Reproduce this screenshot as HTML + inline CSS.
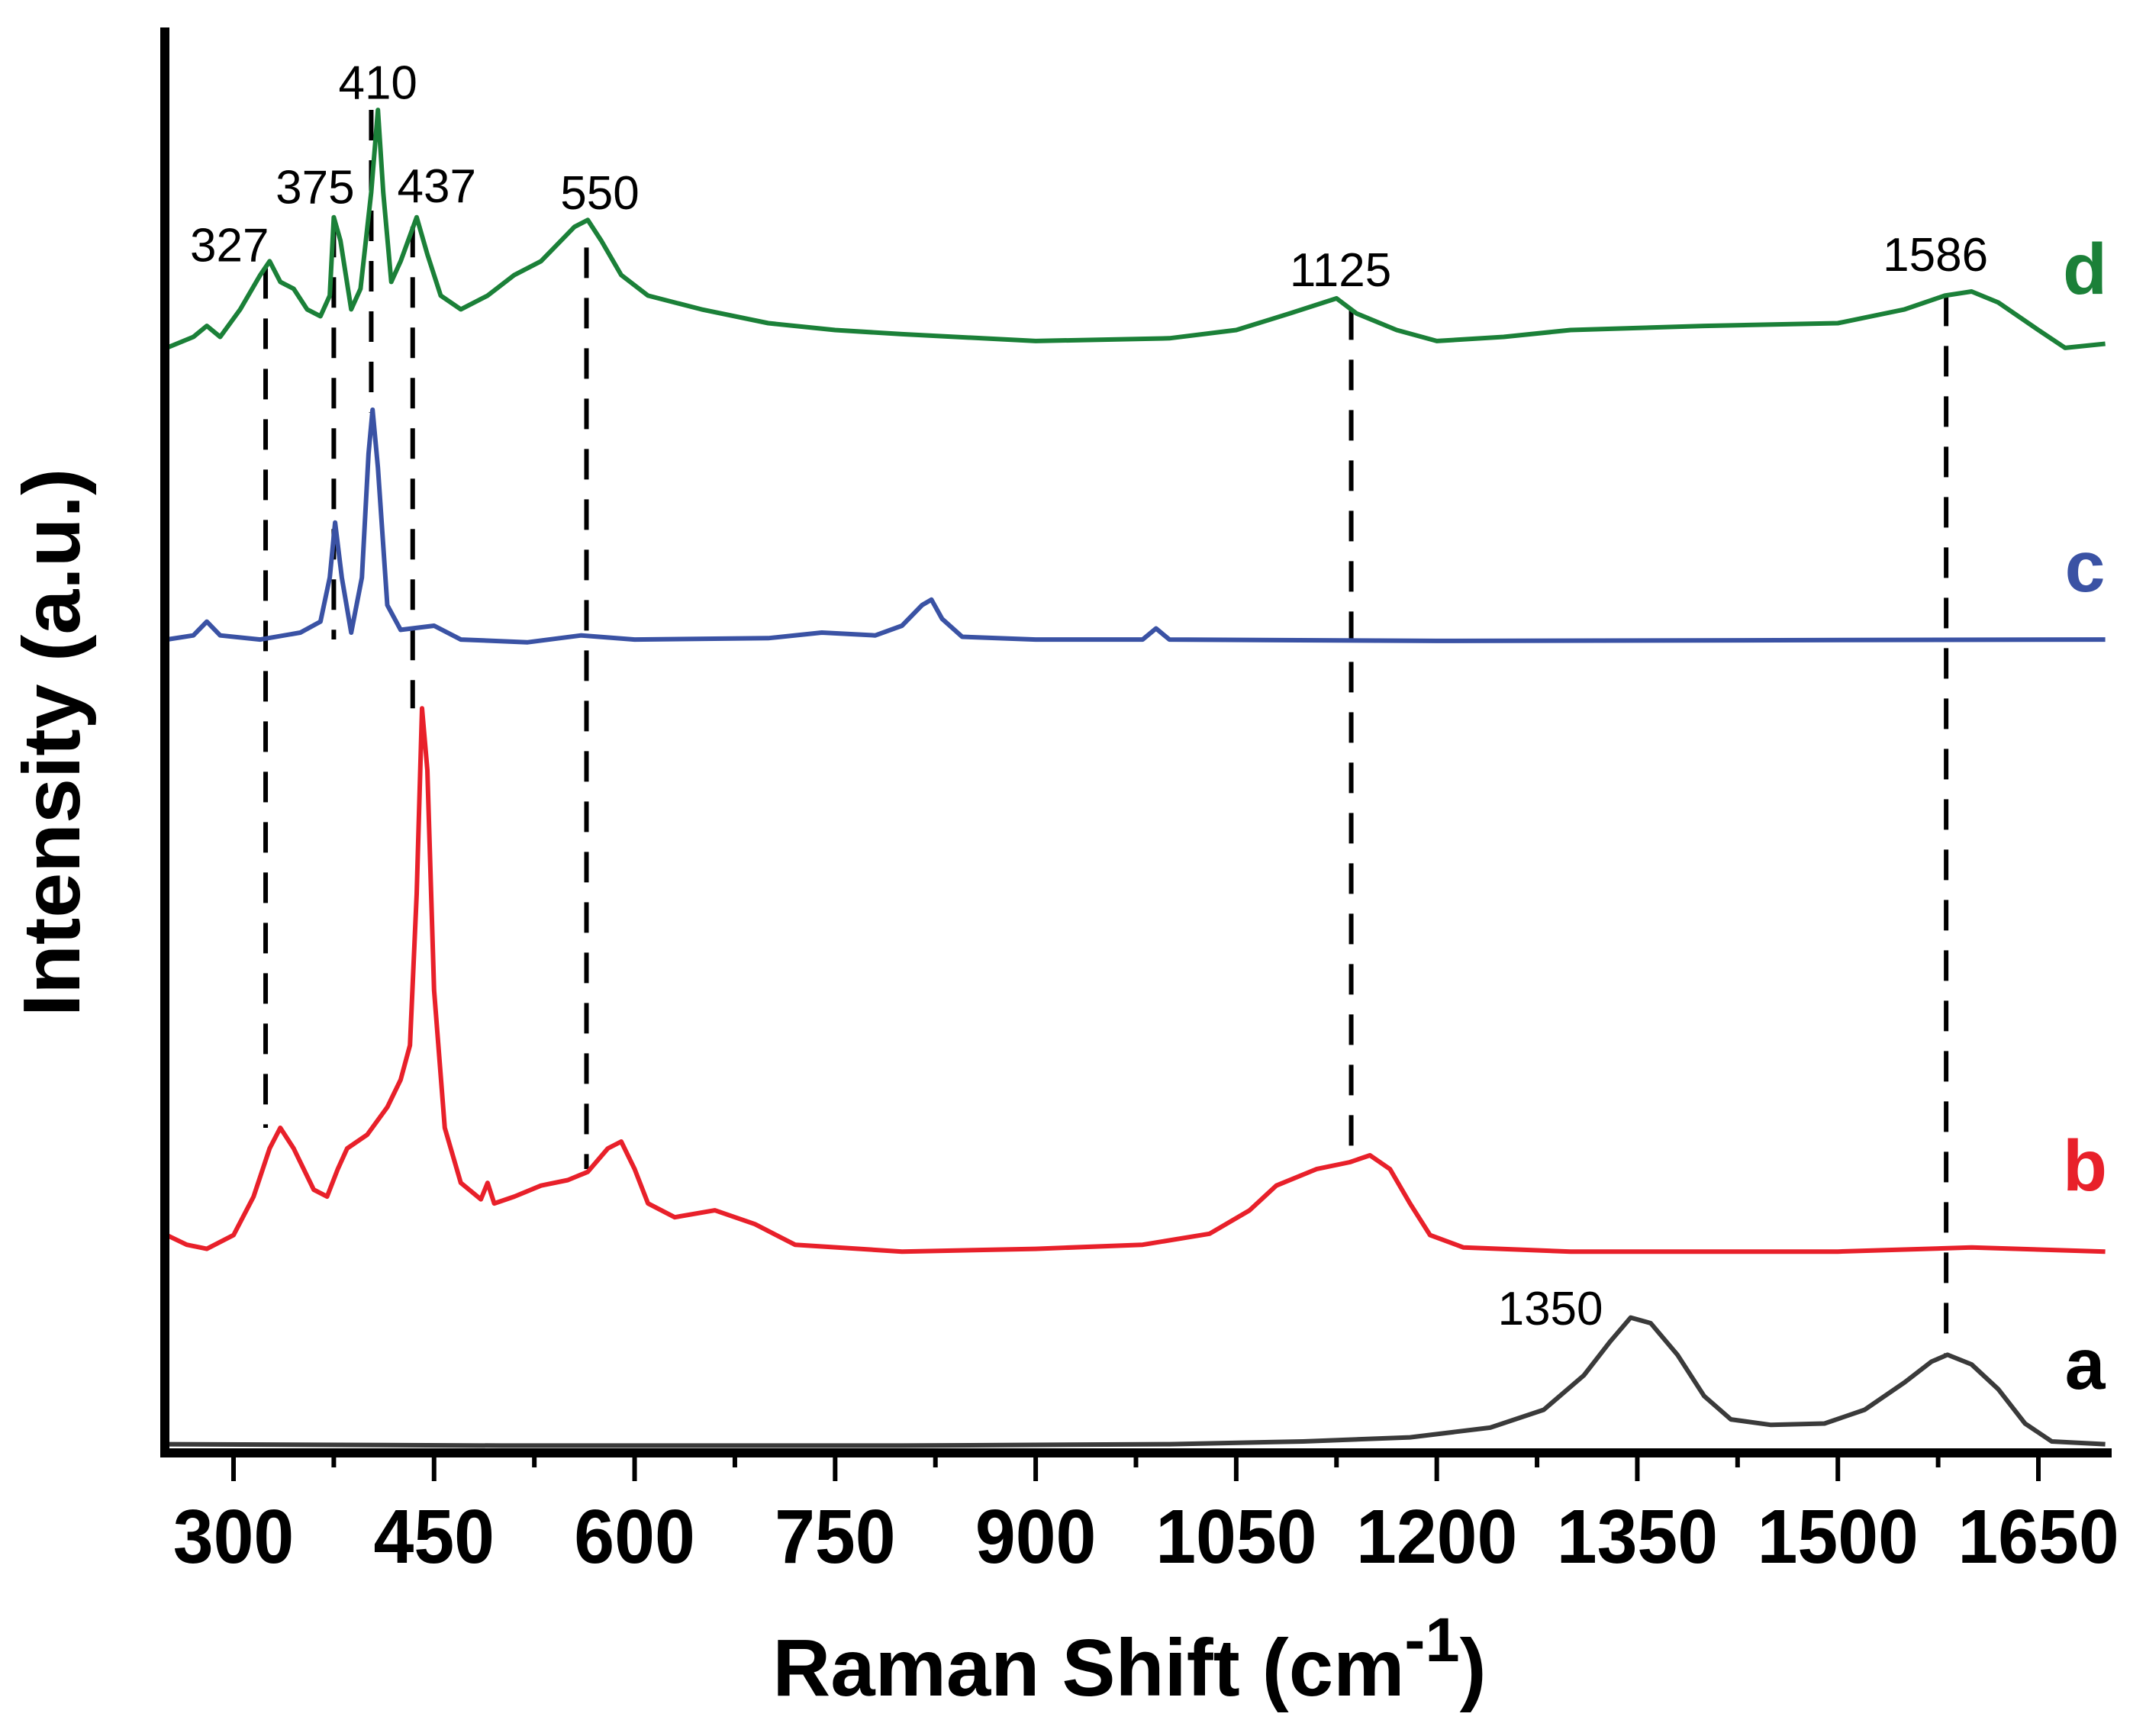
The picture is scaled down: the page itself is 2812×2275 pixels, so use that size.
<!DOCTYPE html>
<html><head><meta charset="utf-8"><style>
html,body{margin:0;padding:0;background:#fff}
svg{display:block}
</style></head><body>
<svg id="chart" width="2812" height="2275" viewBox="0 0 2812 2275" xmlns="http://www.w3.org/2000/svg" font-family="Liberation Sans, Arial, sans-serif">
<g id="plot"></g>
<g id="axes"></g>
<text x="1480" y="2222" font-size="106" font-weight="bold" text-anchor="middle" transform="translate(1480 0) scale(0.99 1) translate(-1480 0)">Raman Shift (cm<tspan dy="-45" font-size="82">-1</tspan><tspan dy="45">)</tspan></text>
<text transform="translate(104 973) rotate(-90)" font-size="106" font-weight="bold" text-anchor="middle">Intensity (a.u.)</text>
</svg>
<script>
const xTicks=[300,450,600,750,900,1050,1200,1350,1500,1650];
const xMinor=[375,525,675,825,975,1125,1275,1425,1575];
const axX=[250,500,800,1000,1100,1180,1240,1280,1310,1330,1345,1360,1380,1400,1420,1450,1490,1520,1550,1570,1582,1600,1620,1640,1660,1700];
const seriesA=[8,7,7,8,10,13,20,33,58,83,100,96,73,43,26,22,23,33,53,68,73,66,48,23,10,8];
const bxX=[250,265,280,300,315,327,335,345,360,370,378,385,400,415,425,432,437,441,445,450,458,470,485,490,495,510,530,550,565,580,590,600,610,630,660,690,720,800,900,980,1030,1060,1080,1110,1135,1150,1165,1180,1195,1220,1300,1500,1600,1700];
const seriesB=[160,153,150,160,188,223,238,223,193,188,208,223,233,253,273,298,408,543,498,338,238,198,186,198,183,188,196,200,206,223,228,208,183,173,178,168,153,148,150,153,161,178,196,208,213,218,208,183,160,151,148,148,151,148];
const cxX=[250,270,280,290,320,350,365,372,376,381,388,396,401,404,408,415,425,450,470,520,560,600,700,740,780,800,815,822,830,845,900,980,990,1000,1200,1700];
const seriesC=[593,596,606,596,593,598,606,638,678,638,598,638,728,760,718,618,600,603,593,591,596,593,594,598,596,603,618,622,608,595,593,593,601,593,592,593];
const dxX=[250,270,280,290,305,320,327,335,345,355,365,372,375,380,388,395,403,408,412,418,425,437,445,455,470,490,510,530,545,555,565,575,590,610,650,700,750,800,900,1000,1050,1090,1125,1140,1170,1200,1250,1300,1400,1500,1550,1580,1600,1620,1650,1670,1700];
const seriesD=[805,813,821,813,833,858,868,853,848,833,828,843,900,883,833,848,918,978,918,853,868,900,873,843,833,843,858,868,883,893,898,883,858,843,833,823,818,815,810,812,818,830,841,830,818,810,813,818,821,823,833,843,846,838,818,805,808];
const dashX=[324,375,403,434,564,1136,1581];
const dashTop=[863,893,978,893,878,833,843];
const dashBottom=[238,593,758,543,208,218,73];
const peakLabels=["327","375","410","437","550","1125","1586","1350"];
const peakLabelX=[297,361,408,452,574,1128,1573,1285];
const peakLabelY=[868,910,986,911,906,850,861,95];

const NS="http://www.w3.org/2000/svg";
const X=v=>306+(v-300)*2365/1350;
const Y=i=>1907-i*1.8026;
const plot=document.getElementById('plot');
const axes=document.getElementById('axes');
function mk(tag,attrs,parent){const e=document.createElementNS(NS,tag);for(const k in attrs)e.setAttribute(k,attrs[k]);parent.appendChild(e);return e;}

for(let i=0;i<dashX.length;i++){
  const l=mk('line',{x1:X(dashX[i]),x2:X(dashX[i]),y1:Y(dashTop[i]),y2:Y(dashBottom[i]),stroke:'#000','stroke-width':6,'stroke-dasharray':'40 26'},plot);
  
  
}
function series(xs,ys,color,name){
  const pts=xs.map((x,i)=>X(x).toFixed(1)+','+Y(ys[i]).toFixed(1)).join(' ');
  const p=mk('polyline',{points:pts,fill:'none',stroke:color,'stroke-width':6,'stroke-linejoin':'round'},plot);
  
  
}
series(axX,seriesA,'#3a3a3a','series-a');
series(bxX,seriesB,'#e8202a','series-b');
series(cxX,seriesC,'#3a52a4','series-c');
series(dxX,seriesD,'#1b8038','series-d');

for(let i=0;i<peakLabels.length;i++){
  const t=mk('text',{x:X(peakLabelX[i]),y:Y(peakLabelY[i]),'font-size':62,'text-anchor':'middle',fill:'#000'},plot);
  t.textContent=peakLabels[i];
  
  
}
const serLab=[['d','#1b8038',385],['c','#3a52a4',775],['b','#e8202a',1560],['a','#000',1820]];
serLab.forEach(s=>{
  const t=mk('text',{x:2732,y:s[2],'font-size':95,'font-weight':'bold','text-anchor':'middle',fill:s[1]},plot);
  t.textContent=s[0];
  
  
});

const ya=mk('line',{x1:216,x2:216,y1:36,y2:1910,stroke:'#000','stroke-width':12},axes);


const xa=mk('line',{x1:210,x2:2767,y1:1904,y2:1904,stroke:'#000','stroke-width':12},axes);


xTicks.forEach(v=>{
  const t=mk('line',{x1:X(v),x2:X(v),y1:1908,y2:1941,stroke:'#000','stroke-width':6},axes);
  
  
  const l=mk('text',{x:X(v),y:2048,'font-size':100,'font-weight':'bold','text-anchor':'middle',transform:`translate(${X(v)} 0) scale(0.95 1) translate(${-X(v)} 0)`},axes);
  l.textContent=v;
  
  
});
xMinor.forEach(v=>{
  const t=mk('line',{x1:X(v),x2:X(v),y1:1908,y2:1923,stroke:'#000','stroke-width':6},axes);
  
  
});
</script>
</body></html>
